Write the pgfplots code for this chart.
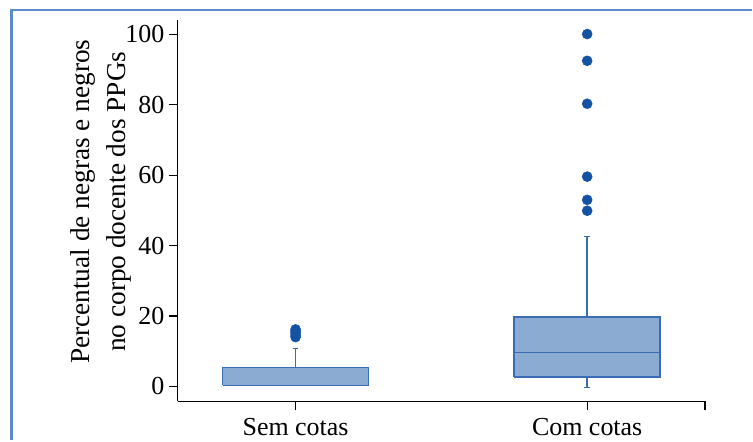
\documentclass[border=0pt]{standalone}
\usepackage{pgfplots}
\pgfplotsset{compat=1.18}
\usepackage{fontspec}
\setmainfont{Liberation Serif}
\definecolor{framec}{HTML}{5B8BC9}
\definecolor{boxfill}{HTML}{8BABD3}
\definecolor{boxedge}{HTML}{3A6CB4}
\definecolor{outc}{HTML}{1452A3}
\begin{document}
\begin{tikzpicture}
\begin{axis}[
  name=ax,
  at={(133.5pt,29.25pt)}, anchor=south west,
  scale only axis, width=396pt, height=286.5pt,
  xmin=0.596, xmax=2.404, ymin=-4.26, ymax=104.1,
  axis x line*=bottom, axis y line*=left,
  axis line style={-, black, line width=1pt},
  xtick={1,2}, xticklabels={Sem cotas, Com cotas},
  ytick={0,20,40,60,80,100},
  tick style={black, line width=1pt},
  tick align=outside, major tick length=6.5pt,
  /pgf/number format/assume math mode=true,
  ticklabel style={font=\fontsize{19.5}{22}\selectfont},
  xticklabel style={yshift=-3pt},
  ylabel={Percentual de negras e negros\\no corpo docente dos PPGs},
  ylabel style={at={(axis description cs:-0.146,0.5236)}, anchor=center, align=center, font=\fontsize{20.5}{27.5}\selectfont},
  clip=false,
]
% Sem cotas box
\addplot[draw=boxedge, fill=boxfill, line width=1.2pt, line join=miter] coordinates {(0.75,0.3) (1.25,0.3) (1.25,5.4) (0.75,5.4) (0.75,0.3)};
\addplot[draw=boxedge, line width=1.1pt] coordinates {(1,5.4) (1,10.8)};
\addplot[draw=boxedge, line width=1.1pt] coordinates {(0.99,10.8) (1.01,10.8)};
\addplot[only marks, mark=*, mark size=3.75pt, draw=outc, fill=outc] coordinates {(1,14.0) (1,14.6) (1,15.2) (1,15.7) (1,16.2)};
% Com cotas box
\addplot[draw=boxedge, fill=boxfill, line width=1.2pt, line join=miter] coordinates {(1.75,2.6) (2.25,2.6) (2.25,19.7) (1.75,19.7) (1.75,2.6)};
\addplot[draw=boxedge, line width=1.2pt] coordinates {(1.75,9.6) (2.25,9.6)};
\addplot[draw=boxedge, line width=1.1pt] coordinates {(2,19.7) (2,42.6)};
\addplot[draw=boxedge, line width=1.1pt] coordinates {(1.99,42.6) (2.01,42.6)};
\addplot[draw=boxedge, line width=1.1pt] coordinates {(2,2.6) (2,-0.3)};
\addplot[draw=boxedge, line width=1.1pt] coordinates {(1.99,-0.3) (2.01,-0.3)};
\addplot[only marks, mark=*, mark size=3.75pt, draw=outc, fill=outc] coordinates {(2,49.9) (2,53.0) (2,59.6) (2,80.3) (2,92.5) (2,100.1)};
\end{axis}
\draw[black, line width=1pt] (ax.south east) -- ++(0pt,-6.5pt);
\draw[framec, line width=1.6pt] (8.6pt,0pt) -- (8.6pt,323.2pt) -- (564.75pt,323.2pt);
\useasboundingbox (0pt,0pt) rectangle (564.75pt,330.75pt);
\end{tikzpicture}
\end{document}
